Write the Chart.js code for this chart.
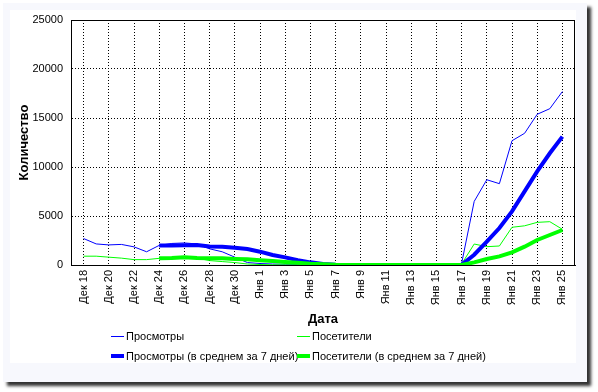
<!DOCTYPE html>
<html>
<head>
<meta charset="utf-8">
<script src="https://cdn.jsdelivr.net/npm/chart.js@4/dist/chart.umd.min.js"></script>
<style>
  html, body { margin:0; padding:0; background:#ffffff; width:598px; height:392px; overflow:hidden; font-family:"Liberation Sans", Arial, sans-serif; }
  #outer { position:absolute; left:3px; top:3px; width:584px; height:379px; background:#f7f8fd; box-shadow:4px 4px 3px #333; }
  #inner { position:absolute; left:10px; top:10px; width:566px; height:353px; background:#ffffff; }
  #c { position:absolute; left:0; top:0; }
  .lg { position:absolute; font-size:11px; color:#000; line-height:12px; white-space:nowrap; }
  .sw { position:absolute; }
</style>
</head>
<body>
<div id="outer"></div>
<div id="inner"></div>
<canvas id="c" width="598" height="392"></canvas>
<div id="legend"></div>
<script>
const categories = [
  "Дек 18","Дек 19","Дек 20","Дек 21","Дек 22","Дек 23","Дек 24","Дек 25","Дек 26","Дек 27","Дек 28","Дек 29","Дек 30","Дек 31",
  "Янв 1","Янв 2","Янв 3","Янв 4","Янв 5","Янв 6","Янв 7","Янв 8","Янв 9","Янв 10","Янв 11","Янв 12","Янв 13","Янв 14","Янв 15","Янв 16","Янв 17",
  "Янв 18","Янв 19","Янв 20","Янв 21","Янв 22","Янв 23","Янв 24","Янв 25"
];
const views = [2700,2150,2050,2100,1850,1350,2000,2200,2250,2150,1650,1350,800,250,
  150,100,80,60,150,150,0,0,0,0,0,0,0,0,0,0,150,
  6490,8700,8300,12680,13440,15380,15950,17700];
const visitors = [900,900,800,700,550,550,680,750,780,700,450,350,250,100,
  50,20,10,0,0,0,0,0,0,0,0,0,0,0,0,0,100,
  2140,1870,1940,3850,4000,4350,4420,3640];
const viewsAvg7 = [null,null,null,null,null,null,2000,2000,2020,2050,1900,1850,1770,1630,
  1360,1020,780,480,270,100,20,0,0,0,0,0,0,0,0,0,20,
  1050,2380,3770,5470,7510,9550,11400,13100];
const visitorsAvg7 = [null,null,null,null,null,null,700,720,780,720,700,680,620,580,
  480,400,300,220,130,70,20,0,0,0,0,0,0,0,0,0,10,
  270,610,880,1290,1870,2550,3060,3570];
const yTicks = [0,5000,10000,15000,20000,25000];
const seriesNames = ["Просмотры","Посетители","Просмотры (в среднем за 7 дней)","Посетители (в среднем за 7 дней)"];

const toPts = arr => arr.map((v,i) => ({x:i, y:v}));
const FONT = "'Liberation Sans', Arial, sans-serif";

const boxBorder = {
  id:'boxBorder',
  beforeDatasetsDraw(chart){
    const {ctx, chartArea:a} = chart;
    ctx.save();
    ctx.strokeStyle = '#000';
    ctx.lineWidth = 1;
    ctx.setLineDash([]);
    ctx.strokeRect(Math.round(a.left)+0.5, Math.round(a.top)+0.5, Math.round(a.right-a.left)-1, Math.round(a.bottom-a.top));
    ctx.restore();
  }
};

new Chart(document.getElementById('c'), {
  type:'line',
  data:{
    datasets:[
      {label:seriesNames[0], data:toPts(views), borderColor:'#0000ff', borderWidth:1, order:4},
      {label:seriesNames[1], data:toPts(visitors), borderColor:'#00ff00', borderWidth:1, order:3},
      {label:seriesNames[2], data:toPts(viewsAvg7), borderColor:'#0000ff', borderWidth:4, order:2},
      {label:seriesNames[3], data:toPts(visitorsAvg7), borderColor:'#00ff00', borderWidth:4, order:1}
    ]
  },
  options:{
    responsive:false,
    animation:false,
    devicePixelRatio:1,
    elements:{ point:{radius:0}, line:{tension:0, fill:false, borderCapStyle:'butt'} },
    layout:{ padding:{left:0, top:20, right:23, bottom:65} },
    plugins:{ legend:{display:false}, tooltip:{enabled:false} },
    scales:{
      x:{
        type:'linear', min:-1, max:categories.length,
        afterBuildTicks(scale){ const t=[]; for(let i=0;i<categories.length;i+=2) t.push({value:i}); scale.ticks=t; },
        afterFit(scale){ scale.height = 62; },
        ticks:{ minRotation:90, maxRotation:90, autoSkip:false, padding:5, color:'#000',
          font:{family:FONT, size:11},
          callback:(v)=>categories[v] },
        grid:{ color:'#000', lineWidth:1, drawTicks:false },
        border:{ display:true, color:'#000', dash:[1,2] },
        title:{ display:true, text:'Дата', color:'#000', font:{family:FONT, size:13, weight:'bold'}, padding:{top:0,bottom:0} }
      },
      y:{
        min:0, max:25000,
        afterBuildTicks(scale){ scale.ticks = yTicks.map(v=>({value:v})); },
        afterFit(scale){ scale.width = 71; },
        ticks:{ padding:8, color:'#000', font:{family:FONT, size:11}, callback:(v)=>String(v) },
        grid:{ color:'#000', lineWidth:1, drawTicks:false },
        border:{ display:true, color:'#000', dash:[1,2] },
        title:{ display:true, text:'Количество', color:'#000', font:{family:FONT, size:13, weight:'bold'}, padding:{top:17,bottom:0} }
      }
    }
  },
  plugins:[boxBorder]
});

// HTML legend
const lg = document.getElementById('legend');
const legendItems = [
  {name:seriesNames[0], color:'#0000ff', w:1, x:111, y:336},
  {name:seriesNames[1], color:'#00ff00', w:1, x:297, y:336},
  {name:seriesNames[2], color:'#0000ff', w:4, x:111, y:356},
  {name:seriesNames[3], color:'#00ff00', w:4, x:297, y:356}
];
legendItems.forEach(it=>{
  const s = document.createElement('div');
  s.className='sw';
  s.style.left = it.x+'px';
  s.style.top = (it.y - Math.floor(it.w/2))+'px';
  s.style.width = '13px';
  s.style.height = it.w+'px';
  s.style.background = it.color;
  lg.appendChild(s);
  const t = document.createElement('div');
  t.className='lg';
  t.style.left = (it.x+15)+'px';
  t.style.top = (it.y-6)+'px';
  t.textContent = it.name;
  lg.appendChild(t);
});
</script>
</body>
</html>
